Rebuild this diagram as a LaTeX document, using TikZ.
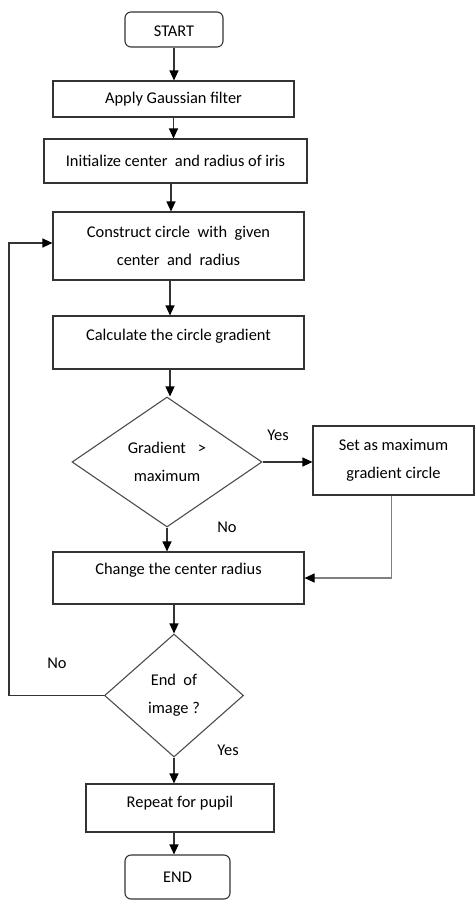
\documentclass[tikz,border=0pt]{standalone}
\usepackage{fontspec}
\setmainfont{Carlito}
\usetikzlibrary{shapes.geometric,arrows.meta,calc}
\begin{document}
\begin{tikzpicture}[x=1pt,y=-1pt,
  font=\fontsize{16.4}{28}\selectfont,
  box/.style={draw=black!80,line width=1.1pt,rectangle,inner sep=0pt,align=center,text=black},
  term/.style={box,rounded corners=6pt},
  dec/.style={draw=black!70,line width=1.1pt,diamond,inner sep=0pt,align=center,aspect=1.4,text=black},
  arr/.style={draw=black!80,line width=1.1pt,-{Triangle[length=10pt,width=9pt,color=black]}},
  lab/.style={inner sep=0pt,text=black}
]
\useasboundingbox (0,0) rectangle (475,900);

\node[term,minimum width=98pt,minimum height=35pt] (start) at (174,29.5) {};
\node[lab] (startt) at ($(start.center)+(0,2)$) {START};

\node[box,minimum width=241pt,minimum height=36pt] (apply) at (173.5,99) {Apply Gaussian filter};
\node[box,minimum width=263pt,minimum height=44pt] (init) at (175.5,161) {Initialize center\ \ and radius of iris};
\node[box,minimum width=251pt,minimum height=68pt] (construct) at (178.5,246) {Construct circle\ \ with\ \ given\\center\ \ and\ \ radius};

\node[box,minimum width=251pt,minimum height=53pt] (calc) at (178.5,342.5) {};
\node[lab] (calct) at ($(calc.center)+(0,-6)$) {Calculate the circle gradient};

\node[dec,minimum width=190pt,minimum height=130pt] (d1) at (167,462) {Gradient\hspace{12pt}>\\maximum};

\node[box,minimum width=161pt,minimum height=69pt] (setmax) at (393.5,460.5) {Set as maximum\\gradient circle};

\node[box,minimum width=251pt,minimum height=52pt] (change) at (178.5,578) {};
\node[lab] (changet) at ($(change.center)+(0,-8)$) {Change the center radius};

\node[dec,minimum width=139pt,minimum height=123pt,aspect=1.13] (d2) at (174,695.5) {End\ \ of\\image ?};

\node[box,minimum width=188pt,minimum height=48pt] (repeat) at (180,808) {};
\node[lab] (repeatt) at ($(repeat.center)+(0,-5)$) {Repeat for pupil};

\node[term,minimum width=105pt,minimum height=44pt] (end) at (177.5,877) {END};

\coordinate (loopx) at (9,0);

\draw[arr] (start.south) -- (apply.north -| start.south);
\draw[arr] (apply.south) -- (init.north -| apply.south);
\draw[arr] (init.south -| d1.north) ++(4,0) coordinate (a1) -- (construct.north -| a1);
\draw[arr] (construct.south -| d1.north) ++(3,0) coordinate (a2) -- (calc.north -| a2);
\draw[arr] (calc.south -| d1.north) ++(3,0) coordinate (a3) -- (d1.north -| a3);
\draw[arr] (d1.south) -- (change.north -| d1.south);
\draw[arr] (d1.east) -- (d1.east -| setmax.west);
\draw[line width=1.1pt,draw=gray,-{Triangle[length=10pt,width=9pt,color=black]}] (setmax.south) ++(-2,0) coordinate (a4) -- (a4 |- change.east) -- (change.east);
\draw[arr] (change.south -| d2.north) -- (d2.north);
\draw[arr] (d2.west) -- (d2.west -| loopx) |- ($(construct.west)+(0,-3)$);
\draw[arr] (d2.south) -- (repeat.north -| d2.south);
\draw[arr] (repeat.south -| d2.south) -- (end.north -| d2.south);

\node[lab] (yes1) at (278,435) {Yes};
\node[lab] (no1) at (227,527) {No};
\node[lab] (no2) at (57,663) {No};
\node[lab] (yes2) at (228,750) {Yes};
\end{tikzpicture}
\end{document}
